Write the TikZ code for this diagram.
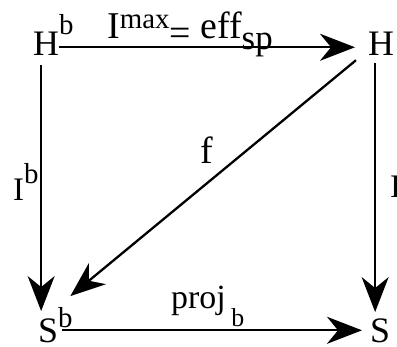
\documentclass[tikz,border=0pt]{standalone}
\usepackage{fontspec}
\setmainfont{Liberation Serif}
\usetikzlibrary{arrows.meta}

% raised / lowered script text
\newcommand{\upscr}[2][0.56em]{\raisebox{#1}{\fontsize{29}{30}\selectfont #2}}
\newcommand{\dnscr}[2][-0.3em]{\raisebox{#1}{\fontsize{35}{36}\selectfont #2}}

\begin{document}
\begin{tikzpicture}[
    x=1bp, y=-1bp,
    obj/.style={inner sep=0pt, anchor=base west, font=\fontsize{36}{40}\selectfont},
    flow/.style={-{Stealth[length=35bp, width=27bp, inset=11bp]}, line width=2.3bp},
    vflow/.style={flow, line width=1.8bp},
    note/.style={inner sep=0pt, anchor=base west, font=\fontsize{36}{40}\selectfont},
]
    \useasboundingbox (0,0) rectangle (397,347);

    \node[obj] (Hb) at (33,55) {H\rlap{\smash{\upscr{b}}}};
    \node[obj] (H)  at (368,55) {H};
    \node[obj] (Sb) at (38,342) {S\rlap{\smash{\upscr[0.4em]{b}}}};
    \node[obj] (S)  at (370,342) {S};

    \draw[flow, shorten >=13bp]
        ([yshift=-4bp]Hb.east) -- ([yshift=-4bp]H.west);
    \draw[vflow, shorten <=10bp, shorten >=7bp]
        ([xshift=-5bp]Hb.south) -- ([xshift=-5bp]Hb.south |- Sb.north);
    \draw[vflow, shorten <=8bp, shorten >=6bp]
        ([xshift=-6bp]H.south) -- ([xshift=-6bp]H.south |- S.north);
    \draw[flow] ([shift={(-12,5)}]H.south west) -- ([shift={(12,-22)}]Sb.north east);
    \draw[flow, shorten <=4bp, shorten >=8bp] (Sb.east) -- (S.west);

    \node[note, font=\fontsize{38}{42}\selectfont] (top) at (107,38)
        {I\upscr[0.25em]{max}\raisebox{-0.2em}{=} eff\dnscr{sp}};
    \node[note, font=\fontsize{38}{42}\selectfont] (fmap) at (200,163) {f};
    \node[note, font=\fontsize{33}{36}\selectfont] (left) at (13,200) {I\upscr[0.5em]{b}};
    \node[note, font=\fontsize{33}{36}\selectfont] (right) at (390,197) {I};
    \node[note, font=\fontsize{34}{36}\selectfont] (proj) at (171,308)
        {proj\,\raisebox{-0.55em}{\fontsize{26}{28}\selectfont b}};

\end{tikzpicture}
\end{document}
